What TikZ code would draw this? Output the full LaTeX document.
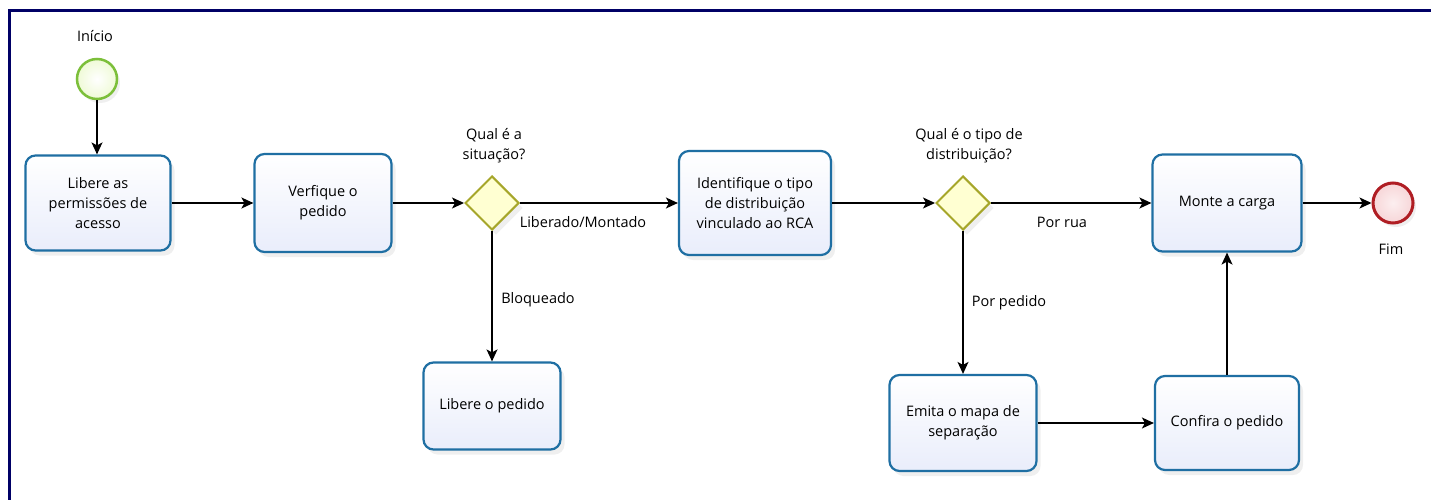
\documentclass[tikz,border=0pt]{standalone}
\usepackage{fontspec}
\setmainfont{Open Sans}
\usetikzlibrary{arrows.meta,shapes.geometric,shadows}
\definecolor{taskline}{HTML}{1F6FA3}
\definecolor{taskfill}{HTML}{E9EDFB}
\definecolor{gateline}{HTML}{A6A62A}
\definecolor{gatefill}{HTML}{FFFFD2}
\definecolor{startline}{HTML}{7CBF3A}
\definecolor{startfill}{HTML}{EFFAD6}
\definecolor{endline}{HTML}{B01E24}
\definecolor{endfill}{HTML}{F7D6D8}
\definecolor{frameblue}{HTML}{000066}
\begin{document}
\begin{tikzpicture}[x=1pt, y=-1pt, font=\fontsize{14.5}{20}\selectfont,
 task/.style={draw=taskline, line width=2.2pt, rounded corners=10pt, top color=white, bottom color=taskfill, align=center, minimum width=145pt, minimum height=95pt, inner sep=2pt, drop shadow={shadow xshift=4pt, shadow yshift=-5pt, opacity=.12}},
 gate/.style={diamond, aspect=1, draw=gateline, line width=2pt, fill=gatefill, minimum size=54pt, inner sep=0pt, drop shadow={shadow xshift=4pt, shadow yshift=-5pt, opacity=.12}},
 begin/.style={circle, draw=startline, line width=2.5pt, inner color=white, outer color=startfill, minimum size=40pt, inner sep=0pt, drop shadow={shadow xshift=3pt, shadow yshift=-4pt, opacity=.12}},
 finish/.style={circle, draw=endline, line width=3pt, inner color=white!60!endfill, outer color=endfill, minimum size=40pt, inner sep=0pt, drop shadow={shadow xshift=3pt, shadow yshift=-4pt, opacity=.12}},
 lbl/.style={align=center, inner sep=1pt},
 flow/.style={-{Stealth[length=12pt, width=11pt, inset=3pt]}, line width=1.4pt}]
\useasboundingbox (0,0) rectangle (1431,500);
\fill[white] (0,0) rectangle (1431,500);
\draw[frameblue, line width=3pt] (9.5,500) -- (9.5,10.5) -- (1431,10.5);
\node[begin] (1) at (97,79) {};
\node[lbl] (1l) at (95,36) {Início};
\node[task] (2) at (98,203) {Libere as\\permissões de\\acesso};
\node[task, minimum width=137pt, minimum height=98pt] (3) at (323,203) {Verfique o\\pedido};
\node[gate] (4) at (492,203) {};
\node[lbl] (4l) at (494,146) {Qual é a\\situação?};
\node[task, minimum width=137pt, minimum height=87pt] (5) at (492,406) {Libere o pedido};
\node[task, minimum width=152pt, minimum height=104pt] (6) at (755,203) {Identifique o tipo\\de distribuição\\vinculado ao RCA};
\node[gate] (7) at (963,203) {};
\node[lbl] (7l) at (969,146) {Qual é o tipo de\\distribuição?};
\node[task, minimum width=149pt, minimum height=97pt] (8) at (1227,203) {Monte a carga};
\node[finish] (9) at (1393,203) {};
\node[lbl] (9l) at (1391,249) {Fim};
\node[task, minimum width=147pt, minimum height=96pt] (10) at (963,423) {Emita o mapa de\\separação};
\node[task, minimum width=144pt, minimum height=94pt] (11) at (1227,423) {Confira o pedido};
\node[lbl] (a) at (583,222) {Liberado/Montado};
\node[lbl] (b) at (538,300) {Bloqueado};
\node[lbl] (c) at (1062,222) {Por rua};
\node[lbl] (d) at (1009,303) {Por pedido};
\draw[flow] (1) -- (1 |- 2.north);
\draw[flow] (2) -- (3);
\draw[flow] (3) -- (4);
\draw[flow] (4) -- (6);
\draw[flow] (4) -- (5);
\draw[flow] (6) -- (7);
\draw[flow] (7) -- (8);
\draw[flow] (7) -- (10);
\draw[flow] (10) -- (11);
\draw[flow] (11) -- (8);
\draw[flow] (8) -- (9);
\end{tikzpicture}
\end{document}
